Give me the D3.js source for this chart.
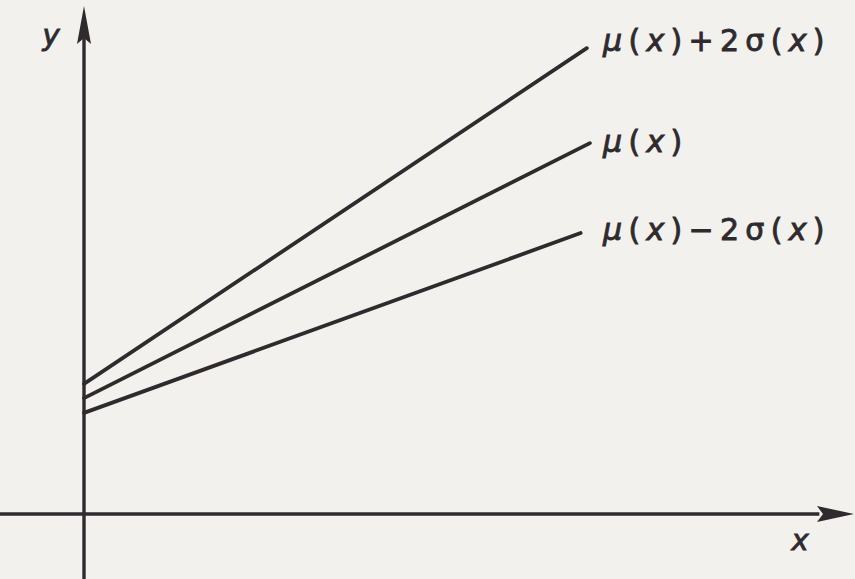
<!DOCTYPE html>
<html>
<head>
<meta charset="utf-8">
<script src="https://cdn.jsdelivr.net/npm/d3@7"></script>
<style>
  html, body { margin: 0; padding: 0; background: #f2f1ed; }
  svg { display: block; }
  text { font-family: "DejaVu Sans", sans-serif; fill: #2f2a2e; stroke: #2f2a2e; stroke-width: 0.9; }
</style>
</head>
<body>
<svg id="chart" width="855" height="579"></svg>
<script>
// Linear trend of the mean with a ±2σ band, in plot units (0–100 on each axis)
const seriesNames = ["upper", "mean", "lower"];
const startX = [0, 0, 0];
const startY = [25.6, 22.8, 19.9];
const endX   = [65.3, 65.7, 64.5];
const endY   = [91.7, 73.0, 55.3];
// label pieces: [text, italic?]
const labelParts = [
  [["μ", true], ["(", false], ["x", true], [")", false], ["+", false], ["2", false], ["σ", false], ["(", false], ["x", true], [")", false]],
  [["μ", true], ["(", false], ["x", true], [")", false]],
  [["μ", true], ["(", false], ["x", true], [")", false], ["−", false], ["2", false], ["σ", false], ["(", false], ["x", true], [")", false]]
];
const axisLabels = ["x", "y"];

// vertical nudge of each end label relative to its line end (px)
const labelNudge = [-7, -1, -3];

const ink = "#2f2a2e";
const svg = d3.select("#chart");

const x = d3.scaleLinear().domain([0, 100]).range([84, 854]);
const y = d3.scaleLinear().domain([0, 100]).range([514, 6]);

// axes with arrowheads
svg.append("line")
  .attr("x1", 0).attr("y1", y(0)).attr("x2", x(95.5)).attr("y2", y(0))
  .attr("stroke", ink).attr("stroke-width", 3.4);
svg.append("line")
  .attr("x1", x(0)).attr("y1", 579).attr("x2", x(0)).attr("y2", y(94))
  .attr("stroke", ink).attr("stroke-width", 3.4);

// x arrow
const xt = [x(100), y(0)];
svg.append("path")
  .attr("d", `M${xt[0]},${xt[1]} L${xt[0] - 37},${xt[1] - 8} L${xt[0] - 31},${xt[1]} L${xt[0] - 37},${xt[1] + 8} Z`)
  .attr("fill", ink);
// y arrow
const yt = [x(0), y(100)];
svg.append("path")
  .attr("d", `M${yt[0]},${yt[1]} L${yt[0] - 7},${yt[1] + 38} L${yt[0]},${yt[1] + 32} L${yt[0] + 7},${yt[1] + 38} Z`)
  .attr("fill", ink);

// the three trend lines
const data = seriesNames.map((n, i) => ({
  name: n,
  pts: [[startX[i], startY[i]], [endX[i], endY[i]]],
  parts: labelParts[i],
  nudge: labelNudge[i]
}));

const line = d3.line().x(d => x(d[0])).y(d => y(d[1]));
svg.selectAll("path.trend")
  .data(data)
  .join("path")
  .attr("class", "trend")
  .attr("d", d => line(d.pts))
  .attr("fill", "none")
  .attr("stroke", ink)
  .attr("stroke-width", 3.8)
  .attr("stroke-linecap", "round");

// end labels
const labels = svg.selectAll("text.lab")
  .data(data)
  .join("text")
  .attr("class", "lab")
  .attr("x", 603)
  .attr("y", d => y(d.pts[1][1]) + 10 + d.nudge)
  .attr("font-size", 30)
  .attr("letter-spacing", 6.3);
labels.selectAll("tspan")
  .data(d => d.parts)
  .join("tspan")
  .attr("font-style", p => p[1] ? "italic" : "normal")
  .text(p => p[0]);

// axis names
svg.append("text").attr("x", 800).attr("y", 550)
  .attr("text-anchor", "middle").attr("font-size", 29).attr("font-style", "italic")
  .text(axisLabels[0]);
svg.append("text").attr("x", 51).attr("y", 45)
  .attr("text-anchor", "middle").attr("font-size", 29).attr("font-style", "italic")
  .text(axisLabels[1]);
</script>
</body>
</html>
